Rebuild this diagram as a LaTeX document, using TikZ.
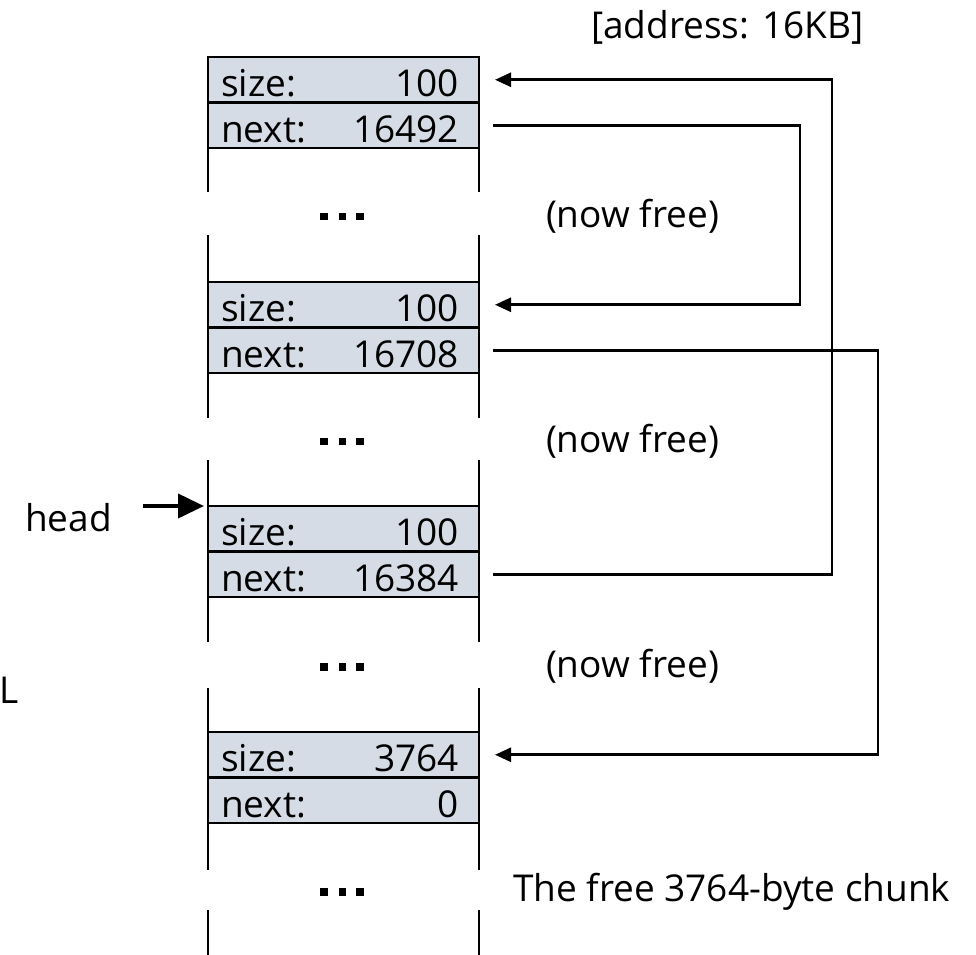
\documentclass[tikz,border=0pt]{standalone}
\usepackage{fontspec}
\setmainfont{Open Sans}
\usetikzlibrary{arrows.meta}
\definecolor{cellfill}{HTML}{D6DCE5}
\begin{document}
\begin{tikzpicture}[x=1pt,y=-1pt,
  row/.style={draw, line width=2.6pt, fill=cellfill, minimum width=271pt,
    minimum height=45.5pt, inner sep=0pt, outer sep=0pt, anchor=north west},
  txt/.style={inner sep=0pt, outer sep=0pt, font=\fontsize{37}{44}\selectfont},
  side/.style={line width=2.8pt},
  link/.style={line width=2.6pt, -{Triangle[length=16pt,width=14pt]}},
]
\useasboundingbox (0,0) rectangle (976,954);

% header rows of the four chunks
\node[row] (s1) at (208,57) {};
\node[row] (n1) at (208,102.5) {};
\node[row] (s2) at (208,282) {};
\node[row] (n2) at (208,327.5) {};
\node[row] (s3) at (208,506) {};
\node[row] (n3) at (208,551.5) {};
\node[row] (s4) at (208,732) {};
\node[row] (n4) at (208,777.5) {};

% field labels and values
\foreach \r/\lab/\val in {s1/size:/100, n1/next:/16492, s2/size:/100, n2/next:/16708,
                          s3/size:/100, n3/next:/16384, s4/size:/3764, n4/next:/0}{
  \node[txt, anchor=base west] at ([xshift=13pt, yshift=-17pt]\r.west) {\lab};
  \node[txt, anchor=base east] at ([xshift=-20pt, yshift=-17pt]\r.east) {\val};
}

% side walls of the heap, broken where the elided region is
\foreach \c in {west,east}{
  \draw[side] (n1.south \c) -- ++(0,44);
  \draw[side] ([yshift=47pt]s2.north \c) -- (s2.north \c);
  \draw[side] (n2.south \c) -- ++(0,45);
  \draw[side] ([yshift=46pt]s3.north \c) -- (s3.north \c);
  \draw[side] (n3.south \c) -- ++(0,45);
  \draw[side] ([yshift=44pt]s4.north \c) -- (s4.north \c);
  \draw[side] (n4.south \c) -- ++(0,47);
  \draw[side] (n4.south \c |- 0,910) -- (n4.south \c |- 0,956);
}

% elision marks
\foreach \y in {216.5,441.5,667,892}
  \foreach \x in {324,342.5,360}
    \fill (\x-3.75,\y-3.75) rectangle ++(7.5,7.5);

% annotations
\node[txt, anchor=base west] (addr) at (591,38) {[address: 16KB]};
\node[txt, anchor=base west] (free1) at (546,227) {(now free)};
\node[txt, anchor=base west] (free2) at (546,452) {(now free)};
\node[txt, anchor=base west] (free3) at (546,677.5) {(now free)};
\node[txt, anchor=base west] (chunk) at (513,901) {The free 3764-byte chunk};
\node[txt, anchor=base west] (head) at (25,531) {head};
\node[txt, anchor=base west] (nul) at (-1,703) {L};

% head pointer
\path (s3.north west) ++(-65,0) coordinate (hs);
\draw[line width=4pt, -{Triangle[length=26pt,width=24pt]}] (hs) -- ([xshift=-4pt]s3.north west);

% next pointers
\coordinate (xa) at (800,0);
\coordinate (xb) at (832,0);
\coordinate (xc) at (878,0);
\draw[link] ([xshift=14pt]n1.east) -- (n1.east -| xa) -- (s2.east -| xa) -- ([xshift=16pt]s2.east);
\draw[link] ([xshift=14pt]n3.east) -- (n3.east -| xb) -- (s1.east -| xb) -- ([xshift=16pt]s1.east);
\draw[link] ([xshift=14pt]n2.east) -- (n2.east -| xc) -- (s4.east -| xc) -- ([xshift=16pt]s4.east);
\end{tikzpicture}
\end{document}
